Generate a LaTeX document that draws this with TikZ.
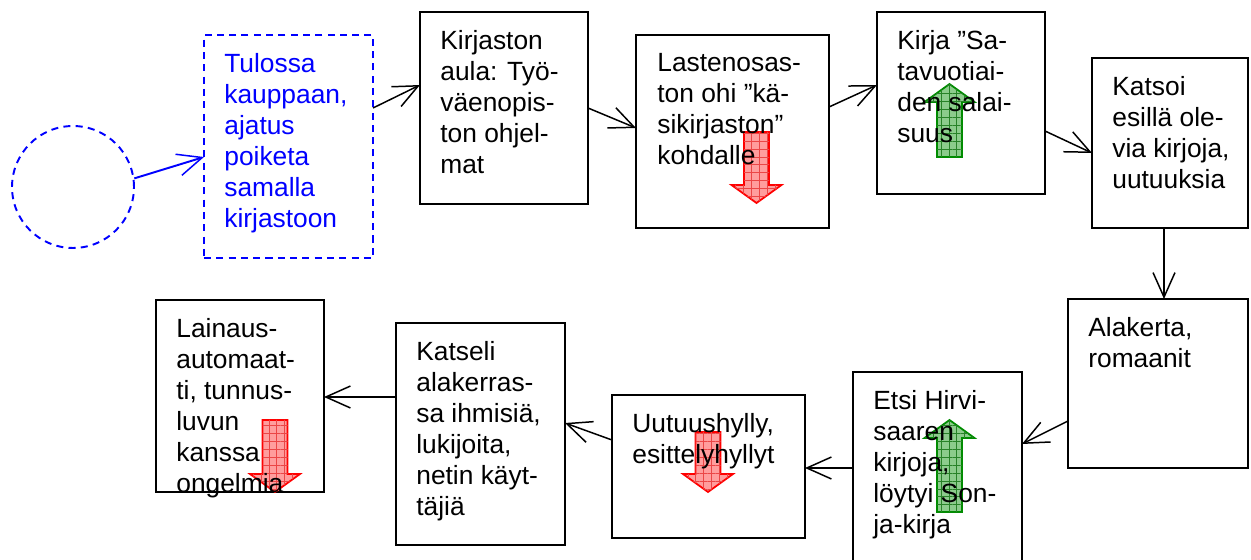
\documentclass[tikz,border=0pt]{standalone}
\usepackage{fontspec}
\setmainfont{Liberation Sans}
\usetikzlibrary{arrows.meta,patterns.meta}
\definecolor{pureblue}{RGB}{0,0,255}
\definecolor{blkred}{RGB}{255,0,0}
\definecolor{blkredfill}{RGB}{255,140,140}
\definecolor{blkredgrid}{RGB}{235,70,70}
\definecolor{blkgreen}{RGB}{0,140,0}
\definecolor{blkgreenfill}{RGB}{120,195,120}
\definecolor{blkgreengrid}{RGB}{40,130,40}
\begin{document}
\begin{tikzpicture}[x=0.02cm,y=-0.02cm,
  box/.style 2 args={draw=black,line width=1.1pt,rectangle,inner sep=0pt,outer sep=0pt,
    anchor=north west,minimum width=#1*0.02cm,minimum height=#2*0.02cm},
  dbox/.style 2 args={box={#1}{#2},draw=pureblue,dash pattern=on 4pt off 3pt},
  txt/.style={anchor=north west,inner sep=0pt,align=left,
    font=\fontsize{15pt}{17.6pt}\selectfont},
  link/.style={draw=black,line width=0.85pt,-{Straight Barb[length=14pt,width=12.5pt,line width=0.85pt]}},
  redblk/.style={draw=blkred,line width=1pt,fill=blkredfill,fill opacity=0.85,
    postaction={pattern={Hatch[angle=0,distance=4.5pt,line width=0.3pt]},pattern color=blkredgrid}},
  greenblk/.style={draw=blkgreen,line width=1pt,fill=blkgreenfill,fill opacity=0.85,
    postaction={pattern={Hatch[angle=0,distance=4.5pt,line width=0.3pt]},pattern color=blkgreengrid}},
]
\useasboundingbox (0,0) rectangle (1251,560);

% start circle and the first (dashed) step
\node (c0) [circle,draw=pureblue,line width=1.1pt,dash pattern=on 4pt off 3pt,
  minimum size=2.44cm,inner sep=0pt] at (73,187) {};
\node (b1) [dbox={169}{223}] at (204,35) {};

% steps
\node (b2)  [box={168}{192}] at (420,12) {};
\node (b3)  [box={193}{193}] at (636,35) {};
\node (b4)  [box={168}{182}] at (877,12) {};
\node (b5)  [box={156}{170}] at (1092,58) {};
\node (b6)  [box={180}{169}] at (1068,299) {};
\node (b7)  [box={169}{190}] at (853,372) {};
\node (b8)  [box={193}{143}] at (612,395) {};
\node (b9)  [box={169}{222}] at (396,323) {};
\node (b10) [box={168}{192}] at (156,300) {};

% up / down block arrows
\draw[redblk] (744,132) -- (769,132) -- (769,185) -- (781.5,185) -- (756.5,203)
  -- (731.5,185) -- (744,185) -- cycle;
\draw[greenblk] (937,157) -- (962,157) -- (962,102) -- (974.5,102) -- (949.5,84)
  -- (924.5,102) -- (937,102) -- cycle;
\draw[greenblk] (937,512) -- (962,512) -- (962,438) -- (974.5,438) -- (949.5,420)
  -- (924.5,438) -- (937,438) -- cycle;
\draw[redblk] (695.5,432) -- (720.5,432) -- (720.5,474) -- (733,474) -- (708,492)
  -- (683,474) -- (695.5,474) -- cycle;
\draw[redblk] (262.5,420) -- (287.5,420) -- (287.5,474) -- (300,474) -- (275,492)
  -- (250,474) -- (262.5,474) -- cycle;

% texts
\node (t1) [txt,text=pureblue] at (224,53) {Tulossa\\kauppaan,\\ajatus\\poiketa\\samalla\\kirjastoon};
\node (t2) [txt] at (440,30) {Kirjaston\\aula: Työ-\\väenopis-\\ton ohjel-\\mat};
\node (t3) [txt] at (657,53) {Lastenosas-\\ton ohi ”kä-\\sikirjaston”\\kohdalle};
\node (t4) [txt] at (897,30) {Kirja ”Sa-\\tavuotiai-\\den salai-\\suus};
\node (t5) [txt] at (1112,76) {Katsoi\\esillä ole-\\via kirjoja,\\uutuuksia};
\node (t6) [txt] at (1088,317) {Alakerta,\\romaanit};
\node (t7) [txt] at (873,390) {Etsi Hirvi-\\saaren\\kirjoja,\\löytyi Son-\\ja-kirja};
\node (t8) [txt] at (632,413) {Uutuushylly,\\esittelyhyllyt};
\node (t9) [txt] at (416,341) {Katseli\\alakerras-\\sa ihmisiä,\\lukijoita,\\netin käyt-\\täjiä};
\node (t10) [txt] at (176,318) {Lainaus-\\automaat-\\ti, tunnus-\\luvun\\kanssa\\ongelmia};

% connectors
\draw[link,draw=pureblue,line width=1.1pt] (c0.8) -- (b1.west |- 0,157);
\draw[link] (b1.east |- 0,108) -- (b2.west |- 0,85);
\draw[link] (b2.east |- 0,108) -- (b3.west |- 0,128);
\draw[link] (b3.east |- 0,107) -- (b4.west |- 0,85);
\draw[link] (b4.east |- 0,131) -- (b5.west |- 0,153);
\draw[link] (b5.south -| 1164,0) -- (b6.north -| 1164,0);
\draw[link] (b6.west |- 0,421) -- (b7.east |- 0,444);
\draw[link] (b7.west |- 0,468) -- (b8.east |- 0,468);
\draw[link] (b8.west |- 0,440) -- (b9.east |- 0,423);
\draw[link] (b9.west |- 0,397) -- (b10.east |- 0,397);
\end{tikzpicture}
\end{document}
